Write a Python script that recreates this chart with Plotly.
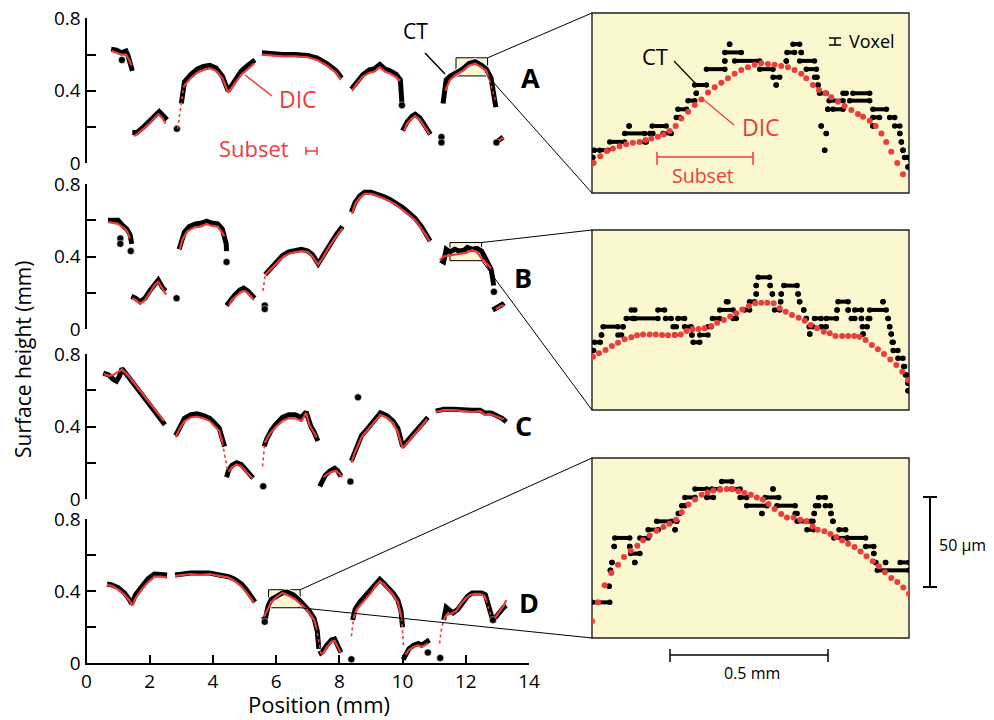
import plotly.graph_objects as go

N = None
RED = "#EC3D3D"
YEL = "#FBF7CE"
FONT = "Open Sans, sans-serif"

# ---------------- Panel A ----------------
a_ct_x = [0.78, 0.95, 1.10, 1.25, 1.32, 1.40, 1.45, N,
          1.45, 1.6, 1.8, 2.0, 2.15, 2.3, 2.4, 2.55, N,
          3.0, 3.05, 3.1, 3.3, 3.5, 3.7, 3.9, 4.1, 4.3, 4.48, 4.7, 4.9, 5.1, 5.33, N,
          5.55, 5.8, 6.2, 6.6, 7.0, 7.3, 7.6, 7.9, 8.07, N,
          8.38, 8.55, 8.75, 8.95, 9.1, 9.28, 9.45, 9.6, 9.8, 9.93, 9.97, 9.98, N,
          10.0, 10.15, 10.3, 10.4, 10.55, 10.7, 10.88, N,
          11.28, 11.33, 11.38, 11.5, 11.7, 11.9, 12.1, 12.3, 12.5, 12.65, 12.8, 12.9, 12.95, N,
          13.0, 13.1, 13.18]
a_ct_y = [0.63, 0.625, 0.61, 0.62, 0.59, 0.55, 0.51, N,
          0.17, 0.17, 0.20, 0.23, 0.26, 0.285, 0.27, 0.24, N,
          0.33, 0.40, 0.45, 0.49, 0.52, 0.535, 0.54, 0.525, 0.48, 0.40, 0.46, 0.51, 0.54, 0.57, N,
          0.61, 0.605, 0.60, 0.60, 0.595, 0.58, 0.55, 0.51, 0.47, N,
          0.41, 0.45, 0.49, 0.515, 0.52, 0.545, 0.52, 0.51, 0.49, 0.46, 0.40, 0.33, N,
          0.18, 0.23, 0.26, 0.27, 0.25, 0.21, 0.16, N,
          0.33, 0.40, 0.46, 0.48, 0.50, 0.52, 0.55, 0.56, 0.54, 0.52, 0.47, 0.38, 0.31, N,
          0.12, 0.135, 0.145]
a_dic_x = [0.80, 0.95, 1.10, 1.25, 1.35, 1.42, N,
           1.5, 1.6, 1.8, 2.0, 2.15, 2.28, 2.4, 2.5, N,
           3.07, 3.1, 3.3, 3.5, 3.7, 3.9, 4.1, 4.3, 4.48, 4.7, 4.9, 5.1, 5.3, N,
           5.55, 5.8, 6.2, 6.6, 7.0, 7.3, 7.6, 7.9, 8.05, N,
           8.4, 8.55, 8.75, 8.95, 9.1, 9.28, 9.45, 9.6, 9.8, 9.92, N,
           10.05, 10.15, 10.3, 10.4, 10.55, 10.7, 10.85, N,
           11.35, 11.5, 11.7, 11.9, 12.1, 12.3, 12.5, 12.65, 12.75, N,
           13.05, 13.12, 13.2]
a_dic_y = [0.62, 0.61, 0.60, 0.60, 0.57, 0.54, N,
           0.15, 0.16, 0.19, 0.22, 0.25, 0.27, 0.25, 0.22, N,
           0.42, 0.43, 0.47, 0.50, 0.515, 0.525, 0.51, 0.47, 0.39, 0.44, 0.49, 0.52, 0.55, N,
           0.60, 0.595, 0.59, 0.59, 0.585, 0.57, 0.54, 0.50, 0.46, N,
           0.40, 0.44, 0.48, 0.50, 0.505, 0.53, 0.505, 0.495, 0.475, 0.455, N,
           0.18, 0.22, 0.25, 0.26, 0.24, 0.20, 0.16, N,
           0.40, 0.46, 0.49, 0.51, 0.54, 0.55, 0.53, 0.51, 0.46, N,
           0.125, 0.135, 0.14]
a_sparse_x = [2.88, 2.95, 3.0, 3.07, N, 12.75, 12.85, 12.93]
a_sparse_y = [0.19, 0.26, 0.33, 0.42, N, 0.46, 0.40, 0.35]
a_blob_x = [1.12, 2.86, 9.98, 11.23, 11.23, 12.97]
a_blob_y = [0.57, 0.19, 0.32, 0.145, 0.115, 0.115]

# ---------------- Panel B ----------------
b_ct_x = [0.68, 0.85, 1.0, 1.15, 1.28, 1.38, 1.43, N,
          1.42, 1.55, 1.7, 1.85, 2.0, 2.15, 2.27, 2.4, 2.5, N,
          2.93, 3.0, 3.1, 3.25, 3.45, 3.65, 3.8, 3.95, 4.15, 4.3, 4.38, 4.42, 4.43, N,
          4.43, 4.55, 4.7, 4.85, 4.97, 5.1, 5.2, 5.32, N,
          5.65, 5.8, 6.0, 6.2, 6.4, 6.6, 6.8, 7.0, 7.15, 7.33, 7.5, 7.7, 7.9, 8.1, N,
          8.38, 8.5, 8.65, 8.8, 9.0, 9.2, 9.4, 9.6, 9.8, 10.0, 10.2, 10.4, 10.6, 10.75, 10.87, N,
          11.2, 11.3, 11.38, 11.5, 11.65, 11.8, 11.95, 12.05, 12.2, 12.35, 12.5, 12.65, 12.8, 12.85, 12.88, N,
          12.85, 12.95, 13.05, 13.15, 13.2]
b_ct_y = [0.60, 0.60, 0.60, 0.57, 0.55, 0.52, 0.47, N,
          0.18, 0.17, 0.15, 0.17, 0.21, 0.25, 0.27, 0.23, 0.21, N,
          0.44, 0.49, 0.535, 0.565, 0.58, 0.585, 0.595, 0.585, 0.58, 0.55, 0.51, 0.47, 0.43, N,
          0.13, 0.16, 0.19, 0.215, 0.225, 0.21, 0.19, 0.17, N,
          0.30, 0.33, 0.37, 0.405, 0.425, 0.435, 0.44, 0.43, 0.41, 0.36, 0.41, 0.47, 0.52, 0.565, N,
          0.645, 0.70, 0.735, 0.755, 0.755, 0.745, 0.73, 0.715, 0.695, 0.67, 0.64, 0.61, 0.565, 0.525, 0.485, N,
          0.38, 0.37, 0.44, 0.425, 0.44, 0.43, 0.435, 0.45, 0.44, 0.445, 0.43, 0.38, 0.33, 0.28, 0.24, N,
          0.105, 0.115, 0.13, 0.135, 0.125]
b_dic_x = [0.7, 0.85, 1.0, 1.15, 1.28, 1.37, N,
           1.45, 1.55, 1.7, 1.85, 2.0, 2.15, 2.27, 2.4, 2.52, N,
           2.95, 3.05, 3.2, 3.4, 3.6, 3.8, 3.95, 4.15, 4.3, 4.36, N,
           4.5, 4.6, 4.75, 4.9, 5.0, 5.1, 5.2, 5.3, N,
           5.66, 5.8, 6.0, 6.2, 6.4, 6.6, 6.8, 7.0, 7.15, 7.33, 7.5, 7.7, 7.9, 8.1, N,
           8.4, 8.5, 8.65, 8.8, 9.0, 9.2, 9.4, 9.6, 9.8, 10.0, 10.2, 10.4, 10.6, 10.75, 10.86, N,
           11.18, 11.3, 11.45, 11.6, 11.8, 12.0, 12.2, 12.35, 12.5, 12.65, 12.8, N,
           12.95, 13.05, 13.15, 13.22]
b_dic_y = [0.59, 0.585, 0.58, 0.56, 0.54, 0.50, N,
           0.17, 0.16, 0.14, 0.16, 0.20, 0.24, 0.26, 0.22, 0.19, N,
           0.44, 0.50, 0.54, 0.56, 0.565, 0.58, 0.57, 0.565, 0.53, 0.51, N,
           0.13, 0.16, 0.185, 0.205, 0.21, 0.20, 0.18, 0.16, N,
           0.30, 0.325, 0.36, 0.395, 0.415, 0.425, 0.43, 0.425, 0.40, 0.355, 0.40, 0.46, 0.51, 0.555, N,
           0.635, 0.69, 0.725, 0.745, 0.745, 0.735, 0.72, 0.705, 0.685, 0.66, 0.63, 0.60, 0.555, 0.515, 0.48, N,
           0.38, 0.40, 0.405, 0.41, 0.415, 0.42, 0.435, 0.425, 0.39, 0.36, 0.335, N,
           0.11, 0.12, 0.13, 0.125]
b_sparse_x = [5.58, 5.62, 5.66]
b_sparse_y = [0.21, 0.26, 0.30]
b_blob_x = [1.07, 1.07, 1.40, 2.85, 4.43, 5.64, 5.64, 12.89]
b_blob_y = [0.50, 0.47, 0.43, 0.17, 0.37, 0.13, 0.11, 0.205]

# ---------------- Panel C ----------------
c_ct_x = [0.53, 0.7, 0.85, 0.95, 1.05, 1.12, 1.3, 1.6, 1.9, 2.2, 2.48, N,
          2.82, 2.95, 3.1, 3.3, 3.5, 3.7, 3.9, 4.05, 4.2, 4.3, 4.37, N,
          4.43, 4.5, 4.6, 4.75, 4.9, 5.05, 5.15, 5.27, N,
          5.62, 5.7, 5.85, 6.0, 6.2, 6.4, 6.6, 6.8, 6.95, 7.0, 7.1, 7.2, 7.32, N,
          7.38, 7.45, 7.55, 7.7, 7.85, 7.95, 8.05, N,
          8.38, 8.5, 8.7, 8.9, 9.1, 9.3, 9.5, 9.7, 9.85, 10.0, 10.2, 10.4, 10.6, 10.8, N,
          11.05, 11.3, 11.6, 11.9, 12.2, 12.45, 12.6, 12.8, 13.0, 13.15, 13.28]
c_ct_y = [0.695, 0.685, 0.66, 0.65, 0.68, 0.72, 0.68, 0.61, 0.54, 0.47, 0.41, N,
          0.35, 0.40, 0.445, 0.465, 0.47, 0.46, 0.445, 0.42, 0.39, 0.33, 0.29, N,
          0.12, 0.16, 0.185, 0.20, 0.19, 0.16, 0.135, 0.115, N,
          0.29, 0.33, 0.38, 0.415, 0.45, 0.465, 0.465, 0.45, 0.48, 0.45, 0.40, 0.37, 0.32, N,
          0.07, 0.10, 0.13, 0.155, 0.17, 0.155, 0.125, N,
          0.21, 0.27, 0.35, 0.39, 0.43, 0.475, 0.46, 0.43, 0.39, 0.29, 0.33, 0.37, 0.41, 0.45, N,
          0.485, 0.495, 0.495, 0.49, 0.49, 0.49, 0.475, 0.475, 0.46, 0.445, 0.425]
c_dic_x = [0.55, 0.7, 0.85, 1.0, 1.12, 1.3, 1.6, 1.9, 2.2, 2.45, N,
           2.82, 2.95, 3.1, 3.3, 3.5, 3.7, 3.9, 4.05, 4.2, 4.3, N,
           4.5, 4.6, 4.75, 4.9, 5.05, 5.15, 5.25, N,
           5.64, 5.8, 6.0, 6.2, 6.4, 6.6, 6.8, 6.95, 7.05, 7.15, 7.28, N,
           7.5, 7.6, 7.75, 7.9, 8.0, 8.08, N,
           8.38, 8.5, 8.7, 8.9, 9.1, 9.3, 9.5, 9.7, 9.85, 10.0, 10.2, 10.4, 10.6, 10.78, N,
           11.05, 11.3, 11.6, 11.9, 12.2, 12.45, 12.6, 12.75, 13.0, 13.2]
c_dic_y = [0.69, 0.68, 0.685, 0.70, 0.715, 0.685, 0.62, 0.555, 0.485, 0.43, N,
           0.34, 0.39, 0.43, 0.45, 0.455, 0.445, 0.43, 0.405, 0.375, 0.31, N,
           0.15, 0.175, 0.19, 0.18, 0.15, 0.13, 0.115, N,
           0.31, 0.36, 0.40, 0.43, 0.445, 0.445, 0.43, 0.475, 0.41, 0.38, 0.34, N,
           0.12, 0.135, 0.15, 0.155, 0.14, 0.12, N,
           0.20, 0.26, 0.34, 0.38, 0.42, 0.465, 0.45, 0.42, 0.37, 0.28, 0.32, 0.36, 0.40, 0.44, N,
           0.48, 0.49, 0.49, 0.485, 0.48, 0.485, 0.465, 0.47, 0.455, 0.44]
c_sparse_x = [4.3, 4.38, 4.46, N, 5.57, 5.6, 5.64]
c_sparse_y = [0.31, 0.24, 0.16, N, 0.18, 0.24, 0.31]
c_blob_x = [5.59, 8.35, 8.59]
c_blob_y = [0.07, 0.096, 0.561]

# ---------------- Panel D ----------------
d_ct_x = [0.65, 0.8, 1.0, 1.2, 1.35, 1.43, 1.55, 1.75, 1.95, 2.15, 2.35, 2.55, N,
          2.8, 3.0, 3.3, 3.6, 3.9, 4.2, 4.5, 4.7, 4.9, 5.05, 5.2, 5.33, N,
          5.6, 5.65, 5.75, 5.85, 6.0, 6.2, 6.35, 6.55, 6.76, 6.9, 7.05, 7.2, 7.3, 7.35, N,
          7.35, 7.45, 7.6, 7.75, 7.85, 7.95, 8.05, N,
          8.42, 8.5, 8.65, 8.8, 9.0, 9.15, 9.28, 9.4, 9.55, 9.7, 9.85, 9.95, 10.0, N,
          10.02, 10.1, 10.2, 10.35, 10.5, 10.6, 10.7, 10.8, 10.85, N,
          11.3, 11.38, 11.45, 11.6, 11.75, 11.9, 12.05, 12.2, 12.35, 12.5, 12.62, 12.7, 12.8, 12.85, N,
          12.92, 13.05, 13.2, 13.28]
d_ct_y = [0.44, 0.435, 0.42, 0.39, 0.355, 0.33, 0.38, 0.43, 0.47, 0.495, 0.495, 0.49, N,
          0.49, 0.495, 0.50, 0.50, 0.50, 0.49, 0.48, 0.465, 0.44, 0.41, 0.375, 0.34, N,
          0.26, 0.24, 0.32, 0.355, 0.37, 0.39, 0.395, 0.38, 0.345, 0.32, 0.29, 0.25, 0.18, 0.08, N,
          0.05, 0.06, 0.10, 0.13, 0.135, 0.10, 0.06, N,
          0.24, 0.30, 0.34, 0.37, 0.40, 0.44, 0.465, 0.445, 0.42, 0.39, 0.35, 0.29, 0.20, N,
          0.02, 0.05, 0.08, 0.10, 0.11, 0.10, 0.11, 0.12, 0.13, N,
          0.24, 0.31, 0.30, 0.28, 0.30, 0.34, 0.37, 0.39, 0.39, 0.39, 0.38, 0.33, 0.27, 0.24, N,
          0.25, 0.28, 0.31, 0.32]
d_dic_x = [0.65, 0.8, 1.0, 1.2, 1.35, 1.45, 1.55, 1.75, 1.95, 2.15, 2.35, 2.55, N,
           2.8, 3.0, 3.3, 3.6, 3.9, 4.2, 4.5, 4.7, 4.9, 5.05, 5.2, 5.3, N,
           5.62, 5.7, 5.76, 5.85, 6.0, 6.2, 6.4, 6.6, 6.76, 6.9, 7.05, 7.2, 7.27, N,
           7.42, 7.5, 7.6, 7.75, 7.85, 7.95, 8.05, N,
           8.45, 8.55, 8.7, 8.85, 9.0, 9.15, 9.28, 9.4, 9.55, 9.7, 9.85, 9.97, N,
           10.1, 10.2, 10.35, 10.5, 10.6, 10.7, 10.8, N,
           11.3, 11.4, 11.55, 11.7, 11.85, 12.0, 12.15, 12.3, 12.45, 12.58, 12.65, N,
           12.92, 13.05, 13.2, 13.28]
d_dic_y = [0.435, 0.43, 0.41, 0.38, 0.35, 0.32, 0.36, 0.41, 0.45, 0.48, 0.48, 0.475, N,
           0.485, 0.49, 0.495, 0.49, 0.495, 0.485, 0.475, 0.455, 0.425, 0.395, 0.36, 0.335, N,
           0.26, 0.29, 0.315, 0.34, 0.365, 0.39, 0.375, 0.355, 0.33, 0.31, 0.28, 0.24, 0.20, N,
           0.05, 0.06, 0.09, 0.12, 0.125, 0.09, 0.055, N,
           0.25, 0.30, 0.33, 0.36, 0.39, 0.43, 0.455, 0.44, 0.41, 0.38, 0.34, 0.25, N,
           0.05, 0.075, 0.09, 0.10, 0.09, 0.10, 0.11, N,
           0.24, 0.27, 0.275, 0.29, 0.33, 0.36, 0.38, 0.385, 0.385, 0.375, 0.35, N,
           0.25, 0.28, 0.32, 0.35]
d_sparse_x = [7.27, 7.35, 7.42, N, 8.38, 8.41, 8.45, N, 9.97, 10.0, 10.03, N,
              11.17, 11.22, 11.3, N, 12.65, 12.73, 12.8]
d_sparse_y = [0.20, 0.11, 0.05, N, 0.15, 0.20, 0.25, N, 0.25, 0.17, 0.09, N,
              0.11, 0.18, 0.24, N, 0.35, 0.30, 0.26]
d_blob_x = [5.64, 8.38, 10.8, 11.19, 12.86]
d_blob_y = [0.23, 0.022, 0.06, 0.03, 0.24]

# ---------------- Insets (x: mm from box left, y: um from box bottom) ----------------
ia_dic_x = [0.005, 0.026, 0.047, 0.066, 0.087, 0.108, 0.129, 0.150, 0.169, 0.187, 0.208, 0.226, 0.245,
            0.264, 0.282, 0.303, 0.324, 0.345, 0.366, 0.387, 0.408, 0.429, 0.450, 0.471, 0.492, 0.513,
            0.534, 0.555, 0.576, 0.597, 0.618, 0.639, 0.660, 0.676, 0.697, 0.716, 0.737, 0.755, 0.776,
            0.797, 0.818, 0.839, 0.855, 0.876, 0.895, 0.913, 0.928, 0.944, 0.963, 0.981]
ia_dic_y = [16.7, 20.4, 23.4, 24.7, 26.0, 27.1, 27.9, 28.4, 29.4, 30.3, 31.2, 32.5, 34.4,
            37.2, 41.4, 45.2, 48.9, 52.0, 55.8, 58.7, 61.3, 63.8, 66.2, 68.4, 69.9, 71.2,
            72.1, 71.7, 71.2, 70.6, 69.9, 68.4, 66.2, 63.8, 60.0, 57.2, 55.4, 53.2, 50.7,
            48.3, 46.1, 43.9, 42.4, 40.1, 37.2, 33.1, 28.4, 22.9, 16.7, 10.4]
ia_ct_x0 = [0.0, 0.0, 0.024, 0.056, 0.103, 0.117, 0.166, 0.182, 0.190, 0.224, 0.266, 0.271, 0.303,
            0.324, 0.329, 0.361, 0.419, 0.419, 0.434, 0.450, 0.529, 0.571, 0.581, 0.613, 0.615, 0.634,
            0.655, 0.660, 0.676, 0.702, 0.713, 0.718, 0.748, 0.792, 0.823, 0.813, 0.744, 0.760, 0.886,
            0.886, 0.939, 0.723, 0.886, 0.955, 0.739, 0.971, 0.976, 0.734, 0.981, 0.986, 0.997]
ia_ct_x1 = [0.008, 0.003, 0.050, 0.103, 0.166, 0.117, 0.171, 0.192, 0.234, 0.250, 0.277, 0.298, 0.324,
            0.361, 0.329, 0.419, 0.419, 0.471, 0.434, 0.529, 0.571, 0.592, 0.581, 0.613, 0.639, 0.655,
            0.702, 0.660, 0.708, 0.710, 0.713, 0.739, 0.792, 0.802, 0.876, 0.876, 0.744, 0.792, 0.929,
            0.907, 0.955, 0.723, 0.886, 0.971, 0.739, 0.971, 0.976, 0.734, 0.981, 0.997, 0.997]
ia_ct_y = [23.8, 19.7, 23.8, 28.4, 33.1, 37.2, 28.4, 33.1, 37.2, 33.1, 42.0, 46.5, 51.3,
           60.0, 55.4, 68.8, 73.4, 78.1, 82.7, 73.4, 68.8, 64.3, 60.0, 73.4, 78.1, 82.7,
           73.4, 78.1, 68.8, 64.3, 60.0, 55.4, 51.3, 55.4, 55.4, 51.3, 46.5, 46.5, 46.5,
           42.0, 42.0, 37.2, 37.2, 37.2, 33.1, 33.1, 28.4, 23.8, 23.8, 19.7, 14.5]

ib_dic_x = [0.003, 0.022, 0.043, 0.063, 0.082, 0.103, 0.124, 0.142, 0.161, 0.182, 0.201, 0.221, 0.240,
            0.261, 0.280, 0.298, 0.317, 0.336, 0.355, 0.376, 0.395, 0.416, 0.436, 0.455, 0.474, 0.495,
            0.515, 0.534, 0.553, 0.573, 0.592, 0.611, 0.631, 0.652, 0.671, 0.690, 0.710, 0.731, 0.750,
            0.768, 0.789, 0.808, 0.827, 0.844, 0.863, 0.883, 0.902, 0.921, 0.941, 0.960, 0.979, 0.997]
ib_dic_y = [29.6, 31.5, 33.3, 35.6, 37.4, 39.3, 40.4, 41.5, 42.0, 42.0, 41.9, 41.7, 41.5,
            41.7, 42.0, 43.9, 44.8, 45.0, 45.4, 46.7, 48.5, 50.0, 51.9, 53.7, 55.9, 57.8,
            59.3, 59.6, 59.6, 59.3, 56.5, 54.6, 52.8, 51.3, 49.6, 47.2, 45.4, 43.5, 42.6,
            41.1, 41.1, 41.1, 41.1, 40.7, 38.9, 36.1, 33.7, 31.1, 28.1, 25.0, 21.3, 16.7]
ib_ct_x0 = [0.001, 0.008, 0.030, 0.035, 0.082, 0.098, 0.108, 0.124, 0.135, 0.208, 0.232, 0.256, 0.261,
            0.271, 0.292, 0.315, 0.319, 0.340, 0.366, 0.380, 0.403, 0.424, 0.445, 0.482, 0.497, 0.518,
            0.518, 0.524, 0.562, 0.569, 0.576, 0.595, 0.597, 0.605, 0.650, 0.655, 0.668, 0.676, 0.685,
            0.687, 0.702, 0.723, 0.739, 0.773, 0.776, 0.808, 0.818, 0.829, 0.850, 0.853, 0.855, 0.871,
            0.876, 0.918, 0.934, 0.939, 0.944, 0.947, 0.950, 0.965, 0.983, 0.989, 0.997, 0.997]
ib_ct_x1 = [0.005, 0.026, 0.030, 0.082, 0.093, 0.098, 0.129, 0.135, 0.208, 0.229, 0.250, 0.266, 0.261,
            0.292, 0.313, 0.315, 0.340, 0.366, 0.376, 0.403, 0.445, 0.429, 0.455, 0.497, 0.513, 0.518,
            0.518, 0.560, 0.562, 0.569, 0.592, 0.595, 0.597, 0.647, 0.650, 0.655, 0.668, 0.676, 0.697,
            0.687, 0.723, 0.739, 0.771, 0.773, 0.808, 0.808, 0.829, 0.850, 0.850, 0.868, 0.855, 0.876,
            0.928, 0.918, 0.934, 0.939, 0.944, 0.950, 0.965, 0.981, 0.986, 0.992, 0.997, 0.997]
ib_ct_y = [33.0, 37.6, 41.7, 46.3, 41.7, 46.3, 50.9, 55.6, 50.9, 55.6, 50.9, 46.3, 41.7,
           50.9, 46.3, 41.7, 37.6, 41.7, 46.3, 50.9, 55.6, 60.2, 50.9, 55.6, 60.2, 64.4,
           69.1, 73.7, 69.1, 64.4, 55.6, 60.2, 64.4, 69.1, 64.4, 60.2, 55.6, 50.9, 46.3,
           42.2, 50.9, 46.3, 50.9, 55.6, 60.2, 55.6, 50.9, 55.6, 50.9, 46.3, 42.2, 50.9,
           55.6, 60.2, 50.9, 46.3, 42.2, 37.6, 33.0, 28.7, 24.1, 19.4, 14.8, 10.7]

id_dic_x = [0.0, 0.019, 0.040, 0.061, 0.082, 0.101, 0.122, 0.143, 0.161, 0.182, 0.204, 0.225, 0.244,
            0.265, 0.283, 0.304, 0.325, 0.346, 0.365, 0.383, 0.404, 0.425, 0.444, 0.462, 0.481, 0.501,
            0.520, 0.539, 0.557, 0.576, 0.597, 0.615, 0.636, 0.657, 0.676, 0.696, 0.712, 0.733, 0.752,
            0.771, 0.789, 0.808, 0.828, 0.847, 0.866, 0.886, 0.905, 0.924, 0.944, 0.963, 0.982, 1.0]
id_dic_y = [9.3, 19.8, 29.3, 36.1, 40.7, 45.0, 48.5, 51.3, 54.3, 56.9, 59.6, 61.7, 63.5,
            65.7, 69.8, 74.1, 76.9, 79.6, 80.9, 81.9, 82.4, 82.8, 82.8, 81.5, 80.6, 79.6,
            78.1, 76.9, 74.4, 71.7, 68.9, 67.0, 67.0, 65.7, 64.8, 62.0, 60.2, 59.3, 57.8,
            56.1, 54.1, 52.4, 50.6, 48.1, 45.4, 42.6, 39.8, 36.5, 33.3, 31.1, 28.1, 24.6]
id_ct_x0 = [0.0, 0.054, 0.058, 0.063, 0.070, 0.072, 0.119, 0.122, 0.135, 0.151, 0.177, 0.204, 0.262,
            0.267, 0.272, 0.283, 0.293, 0.325, 0.362, 0.378, 0.409, 0.441, 0.467, 0.488, 0.536, 0.546,
            0.571, 0.583, 0.641, 0.647, 0.678, 0.691, 0.701, 0.705, 0.715, 0.736, 0.754, 0.760, 0.763,
            0.779, 0.805, 0.863, 0.889, 0.895, 0.900, 0.926, 0.972]
id_ct_x1 = [0.056, 0.054, 0.058, 0.063, 0.070, 0.119, 0.119, 0.151, 0.135, 0.177, 0.209, 0.251, 0.262,
            0.267, 0.277, 0.293, 0.325, 0.362, 0.383, 0.404, 0.441, 0.467, 0.488, 0.552, 0.536, 0.589,
            0.571, 0.641, 0.647, 0.678, 0.699, 0.697, 0.701, 0.715, 0.736, 0.752, 0.754, 0.760, 0.805,
            0.800, 0.863, 0.889, 0.889, 0.895, 1.0, 0.926, 1.0]
id_ct_y = [19.8, 28.7, 37.6, 42.0, 50.9, 55.6, 50.9, 46.9, 42.0, 55.6, 60.2, 64.8, 60.2,
           64.8, 69.1, 73.5, 78.1, 82.8, 78.1, 82.8, 87.0, 82.8, 78.1, 73.5, 69.1, 78.1,
           82.8, 73.5, 69.1, 64.8, 60.2, 64.8, 69.1, 73.5, 78.1, 73.5, 69.1, 64.8, 55.6,
           60.2, 55.6, 50.9, 46.9, 42.0, 37.6, 42.0, 42.0]

y_tick_vals = [0, 0.2, 0.4, 0.6, 0.8]
y_tick_text = ["0", "", "0.4", "", "0.8"]
x_tick_vals = [0, 2, 4, 6, 8, 10, 12, 14]

# ---------------- geometry (window pixels -> paper; page body has an 8px margin) ----------------
OFF = 8
W, H = 994 - OFF, 720 - OFF
def fx(p): return (p - OFF) / W
def fy(p): return 1 - (p - OFF) / H

LX = [fx(86.5), fx(529)]
PY = {1: [fy(163.3), fy(18.3)], 2: [fy(329), fy(184)], 3: [fy(499), fy(354)], 4: [fy(663.3), fy(519)]}
IX = [fx(592), fx(909)]
IY = {5: [fy(193), fy(13)], 6: [fy(410), fy(230)], 7: [fy(638), fy(458)]}
# zoom boxes: (panel, inset, x0, x1, y0, y1)
BOXES = [(1, 5, 11.69, 12.69, 0.482, 0.582), (2, 6, 11.5, 12.5, 0.377, 0.477), (4, 7, 5.76, 6.76, 0.308, 0.408)]

def ax(i): return ("x" if i == 1 else f"x{i}"), ("y" if i == 1 else f"y{i}")

fig = go.Figure()

panels = [
    (1, a_ct_x, a_ct_y, a_dic_x, a_dic_y, a_sparse_x, a_sparse_y, a_blob_x, a_blob_y),
    (2, b_ct_x, b_ct_y, b_dic_x, b_dic_y, b_sparse_x, b_sparse_y, b_blob_x, b_blob_y),
    (3, c_ct_x, c_ct_y, c_dic_x, c_dic_y, c_sparse_x, c_sparse_y, c_blob_x, c_blob_y),
    (4, d_ct_x, d_ct_y, d_dic_x, d_dic_y, d_sparse_x, d_sparse_y, d_blob_x, d_blob_y),
]
for i, cx, cy, dx, dy, sx, sy, bx, by in panels:
    xa, ya = ax(i)
    fig.add_trace(go.Scatter(x=cx, y=cy, mode="lines", line=dict(color="white", width=7),
                             xaxis=xa, yaxis=ya, hoverinfo="skip"))
    fig.add_trace(go.Scatter(x=cx, y=cy, mode="lines", line=dict(color="black", width=5),
                             xaxis=xa, yaxis=ya, name="CT"))
    fig.add_trace(go.Scatter(x=bx, y=by, mode="markers",
                             marker=dict(color="black", size=7, line=dict(color="white", width=0.5)),
                             xaxis=xa, yaxis=ya, name="CT"))
    fig.add_trace(go.Scatter(x=dx, y=dy, mode="lines", line=dict(color=RED, width=2.2),
                             xaxis=xa, yaxis=ya, name="DIC"))
    fig.add_trace(go.Scatter(x=sx, y=sy, mode="lines", line=dict(color=RED, width=1.6, dash="dot"),
                             xaxis=xa, yaxis=ya, name="DIC"))

insets = [
    (5, ia_ct_x0, ia_ct_x1, ia_ct_y, ia_dic_x, ia_dic_y),
    (6, ib_ct_x0, ib_ct_x1, ib_ct_y, ib_dic_x, ib_dic_y),
    (7, id_ct_x0, id_ct_x1, id_ct_y, id_dic_x, id_dic_y),
]
for i, x0s, x1s, ys, dx, dy in insets:
    xa, ya = ax(i)
    lx, ly = [], []
    for a, b, c in zip(x0s, x1s, ys):
        lx += [a, b, None]
        ly += [c, c, None]
    fig.add_trace(go.Scatter(x=lx, y=ly, mode="lines", line=dict(color="black", width=4),
                             xaxis=xa, yaxis=ya, name="CT"))
    fig.add_trace(go.Scatter(x=list(x0s) + list(x1s), y=list(ys) + list(ys), mode="markers",
                             marker=dict(color="black", size=5.5, line=dict(width=0)),
                             xaxis=xa, yaxis=ya, name="CT"))
    fig.add_trace(go.Scatter(x=dx, y=dy, mode="markers",
                             marker=dict(color=RED, size=6, line=dict(width=0)),
                             xaxis=xa, yaxis=ya, name="DIC"))

layout = dict(width=W, height=H, margin=dict(l=0, r=0, t=0, b=0, pad=0, autoexpand=False),
              showlegend=False, template="none",
              paper_bgcolor="white", plot_bgcolor="white",
              font=dict(family=FONT, color="black", size=19))
for i in range(1, 5):
    xa, ya = ax(i)
    xk = "xaxis" if i == 1 else f"xaxis{i}"
    yk = "yaxis" if i == 1 else f"yaxis{i}"
    if i == 4:
        layout[xk] = dict(domain=LX, range=[0, 14], anchor=ya, showline=True, linewidth=2, linecolor="black",
                          ticks="inside", ticklen=8, tickwidth=2, tickcolor="black", tickvals=x_tick_vals,
                          showgrid=False, zeroline=False, tickfont=dict(size=19), ticklabelstandoff=0,
                          automargin=False, ticklabeloverflow="allow")
    else:
        layout[xk] = dict(domain=LX, range=[0, 14], anchor=ya, visible=False, automargin=False)
    layout[yk] = dict(domain=PY[i], range=[0, 0.8], anchor=xa, showline=True, linewidth=2, linecolor="black",
                      ticks="inside", ticklen=9, tickwidth=2, tickcolor="black", tickvals=y_tick_vals,
                      ticktext=y_tick_text, showgrid=False, zeroline=False, tickfont=dict(size=19),
                      automargin=False, ticklabeloverflow="allow")
for i in (5, 6, 7):
    xa, ya = ax(i)
    layout[f"xaxis{i}"] = dict(domain=IX, range=[0, 1], anchor=ya, visible=False, automargin=False)
    layout[f"yaxis{i}"] = dict(domain=IY[i], range=[0, 100], anchor=xa, visible=False, automargin=False)

shapes = []
anns = []
def pline(x0, y0, x1, y1, color="black", width=1.2):
    shapes.append(dict(type="line", xref="paper", yref="paper", x0=fx(x0), y0=fy(y0), x1=fx(x1), y1=fy(y1),
                       line=dict(color=color, width=width)))

for p, ins, bx0, bx1, by0, by1 in BOXES:
    xa, ya = ax(p)
    shapes.append(dict(type="rect", xref=xa, yref=ya, x0=bx0, x1=bx1, y0=by0, y1=by1,
                       fillcolor=YEL, line=dict(color="black", width=1), layer="below"))
    shapes.append(dict(type="rect", xref=f"x{ins} domain", yref=f"y{ins} domain", x0=0, x1=1, y0=0, y1=1,
                       fillcolor=YEL, line=dict(color="#222", width=1.4), layer="below"))
    # connectors
    px1 = LX[0] + bx1 / 14 * (LX[1] - LX[0])
    pyt = PY[p][0] + by1 / 0.8 * (PY[p][1] - PY[p][0])
    pyb = PY[p][0] + by0 / 0.8 * (PY[p][1] - PY[p][0])
    for yb, yi in ((pyt, IY[ins][1]), (pyb, IY[ins][0])):
        shapes.append(dict(type="line", xref="paper", yref="paper", x0=px1, y0=yb, x1=IX[0], y1=yi,
                           line=dict(color="black", width=1)))

def ann(text, x, y, size, color="black", xanchor="center", angle=0):
    anns.append(dict(text=text, x=fx(x), y=fy(y), xref="paper", yref="paper", showarrow=False,
                     xanchor=xanchor, yanchor="middle", textangle=angle,
                     font=dict(family=FONT, size=size, color=color)))

# panel letters
ann("<b>A</b>", 530, 78, 27)
ann("<b>B</b>", 523, 277, 27)
ann("<b>C</b>", 523, 425, 27)
ann("<b>D</b>", 529, 602, 27)
# panel A labels
ann("CT", 415, 31, 21)
pline(425, 53, 445, 74, width=1.5)
ann("DIC", 298, 99, 23, RED)
pline(245, 75, 272, 96, color=RED, width=1.5)
ann("Subset", 254, 148, 22, RED)
pline(306, 151, 317, 151, color=RED, width=1.5)
pline(306, 147, 306, 155, color=RED, width=1.5)
pline(317, 147, 317, 155, color=RED, width=1.5)
# inset A labels
ann("CT", 655, 56, 22)
pline(674, 61, 695, 83, width=1.2)
ann("DIC", 761, 127, 23, RED)
pline(704, 100, 734, 125, color=RED, width=1.2)
ann("Subset", 703, 175, 19.5, RED)
pline(657, 157, 753, 157, color=RED, width=1.5)
pline(657, 152, 657, 165, color=RED, width=1.5)
pline(753, 152, 753, 165, color=RED, width=1.5)
ann("Voxel", 872, 41, 18)
pline(829, 38, 841, 38, width=1.5)
pline(829, 45, 841, 45, width=1.5)
pline(835, 38, 835, 45, width=1.5)
# scale bars
pline(930, 497, 930, 587, width=2)
pline(923, 497, 937, 497, width=2)
pline(923, 587, 937, 587, width=2)
ann("50 \u03bcm", 937, 545, 16, xanchor="left")
pline(670, 655, 828, 655, width=1.5)
pline(670, 649, 670, 662, width=1.5)
pline(828, 649, 828, 662, width=1.5)
ann("0.5 mm", 752, 673, 16)
# axis titles
ann("Position (mm)", 319, 704, 22)
ann("Surface height (mm)", 23, 360, 21, angle=-90)

layout["shapes"] = shapes
layout["annotations"] = anns
fig.update_layout(**layout)
fig.write_html("out.html")
